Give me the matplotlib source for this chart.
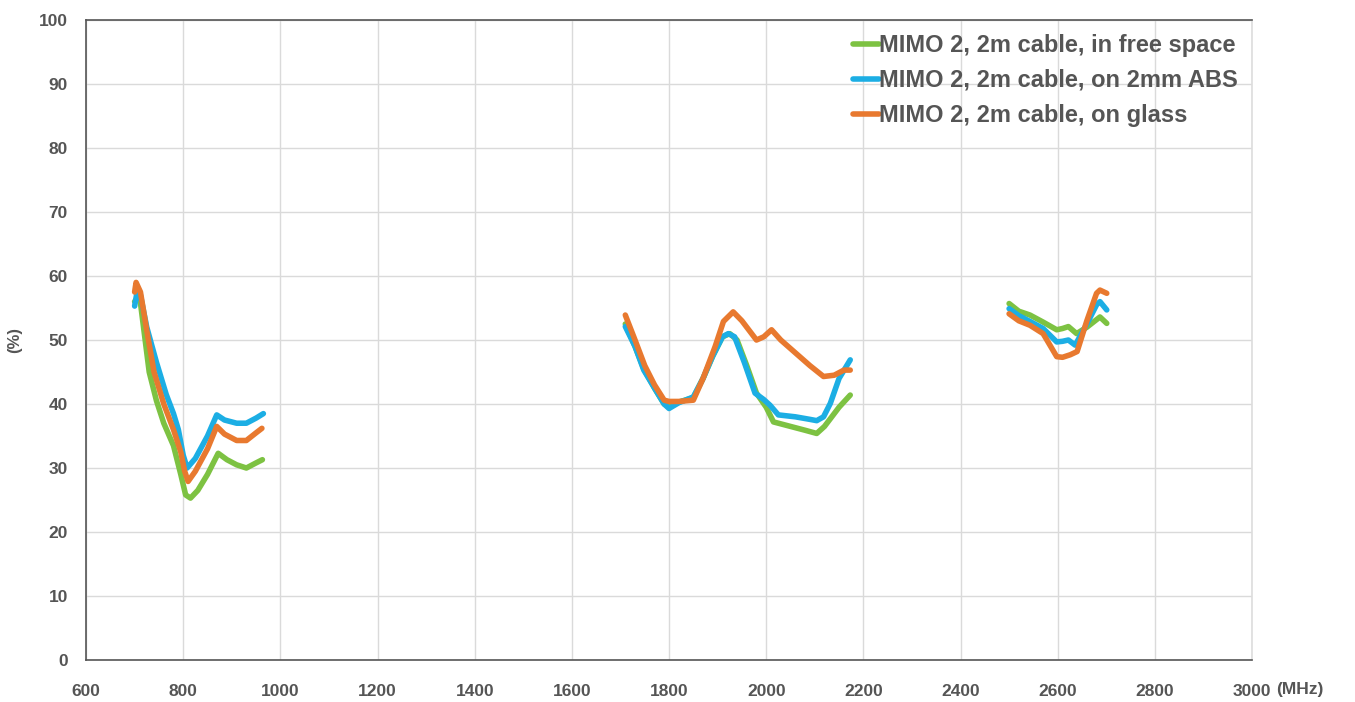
import matplotlib
matplotlib.use("Agg")
import matplotlib.pyplot as plt
import numpy as np

# Band 1 (700-960 MHz)
b1_green_f = [700, 710, 720, 730, 745, 760, 780, 795, 805, 815, 830, 850, 872, 890, 910, 930, 950, 963]
b1_green_v = [56.0, 57.0, 51.0, 45.0, 40.5, 37.0, 33.5, 29.0, 25.8, 25.3, 26.5, 29.0, 32.3, 31.3, 30.5, 30.0, 30.8, 31.3]
b1_blue_f = [700, 705, 712, 725, 745, 765, 780, 790, 800, 808, 825, 850, 869, 885, 910, 930, 950, 965]
b1_blue_v = [55.3, 57.5, 57.0, 52.0, 46.5, 41.5, 38.5, 36.0, 32.0, 30.0, 31.5, 35.0, 38.3, 37.5, 37.0, 37.0, 37.8, 38.5]
b1_orange_f = [700, 703, 712, 725, 740, 760, 780, 795, 803, 810, 825, 850, 869, 885, 910, 930, 950, 962]
b1_orange_v = [57.5, 59.0, 57.5, 51.5, 45.0, 40.0, 36.0, 32.5, 29.5, 27.9, 29.5, 33.0, 36.5, 35.3, 34.3, 34.3, 35.5, 36.2]

# Band 2 (1710-2175 MHz)
b2_green_f = [1710, 1730, 1748, 1770, 1790, 1800, 1820, 1850, 1870, 1890, 1910, 1925, 1940, 1960, 1980, 2000, 2015, 2050, 2080, 2104, 2120, 2150, 2173]
b2_green_v = [52.5, 49.0, 45.5, 42.5, 40.0, 39.5, 40.3, 41.0, 44.0, 47.5, 50.5, 51.0, 50.0, 46.0, 41.7, 39.5, 37.2, 36.5, 35.9, 35.4, 36.5, 39.5, 41.4]
b2_blue_f = [1710, 1730, 1748, 1770, 1790, 1800, 1820, 1850, 1870, 1890, 1910, 1922, 1935, 1955, 1977, 1995, 2008, 2025, 2060, 2090, 2104, 2118, 2132, 2150, 2173]
b2_blue_v = [52.1, 49.0, 45.3, 42.5, 40.0, 39.3, 40.2, 41.1, 44.0, 47.5, 50.5, 51.0, 50.5, 46.5, 41.7, 40.7, 39.8, 38.3, 38.0, 37.6, 37.4, 38.0, 40.1, 44.0, 46.9]
b2_orange_f = [1710, 1730, 1750, 1770, 1790, 1800, 1820, 1850, 1870, 1895, 1912, 1932, 1950, 1965, 1980, 1995, 2011, 2030, 2060, 2090, 2118, 2140, 2160, 2173]
b2_orange_v = [53.9, 50.0, 46.0, 43.0, 40.6, 40.4, 40.4, 40.6, 44.0, 49.0, 52.9, 54.4, 53.0, 51.5, 50.0, 50.5, 51.6, 50.0, 48.0, 46.0, 44.3, 44.5, 45.3, 45.3]

# Band 3 (2500-2700 MHz)
b3_green_f = [2500, 2520, 2543, 2570, 2598, 2610, 2622, 2639, 2660, 2687, 2701]
b3_green_v = [55.7, 54.5, 53.9, 52.8, 51.6, 51.8, 52.1, 51.0, 52.0, 53.6, 52.6]
b3_blue_f = [2500, 2520, 2543, 2570, 2598, 2610, 2622, 2636, 2660, 2680, 2687, 2701]
b3_blue_v = [54.9, 53.8, 52.9, 51.8, 49.7, 49.8, 50.0, 49.2, 52.5, 55.5, 56.0, 54.7]
b3_orange_f = [2500, 2520, 2543, 2570, 2598, 2610, 2626, 2640, 2660, 2680, 2687, 2701]
b3_orange_v = [54.1, 53.0, 52.3, 51.0, 47.4, 47.3, 47.7, 48.2, 53.0, 57.3, 57.8, 57.3]

labels = ["MIMO 2, 2m cable, in free space", "MIMO 2, 2m cable, on 2mm ABS", "MIMO 2, 2m cable, on glass"]
xticks = [600, 800, 1000, 1200, 1400, 1600, 1800, 2000, 2200, 2400, 2600, 2800, 3000]
yticks = [0, 10, 20, 30, 40, 50, 60, 70, 80, 90, 100]

colors = ["#7DC242", "#1CAEE4", "#E8792F"]
series = [
    [(b1_green_f, b1_green_v), (b2_green_f, b2_green_v), (b3_green_f, b3_green_v)],
    [(b1_blue_f, b1_blue_v), (b2_blue_f, b2_blue_v), (b3_blue_f, b3_blue_v)],
    [(b1_orange_f, b1_orange_v), (b2_orange_f, b2_orange_v), (b3_orange_f, b3_orange_v)],
]

plt.rcParams['font.family'] = ['Liberation Sans', 'DejaVu Sans']
fig = plt.figure(figsize=(13.55, 7.02), dpi=100)
ax = fig.add_axes([0.0635, 0.0598, 0.8605, 0.9117])

for col, lab, segs in zip(colors, labels, series):
    for i, (f, v) in enumerate(segs):
        ax.plot(f, v, color=col, lw=4.0, solid_capstyle='round', solid_joinstyle='round',
                label=lab if i == 0 else None)

ax.set_xlim(600, 3000)
ax.set_ylim(0, 100)
ax.set_xticks(xticks)
ax.set_yticks(yticks)
ax.set_xticklabels([str(t) for t in xticks])
ax.grid(True, color="#DADADA", lw=1.0)
ax.set_axisbelow(True)
for s in ax.spines.values():
    s.set_color("#555555")
    s.set_linewidth(1.2)
ax.spines['right'].set_color("#DDDDDD")
ax.tick_params(axis='both', length=0, labelsize=12.5, colors="#555555")
ax.tick_params(axis='x', pad=17)
ax.tick_params(axis='y', pad=13)
for t in ax.get_xticklabels() + ax.get_yticklabels():
    t.set_fontweight('bold')

ax.set_ylabel("(%)", fontsize=12, color="#555555", fontweight='bold', labelpad=12)
ax.text(1.021, -0.0465, "(MHz)", transform=ax.transAxes, fontsize=12.5, color="#555555",
        fontweight='bold', ha='left', va='center')

leg = ax.legend(loc='upper right', frameon=False, fontsize=17, handlelength=1.1,
                handletextpad=0.0, labelspacing=0.5, borderaxespad=0.2)
for t in leg.get_texts():
    t.set_color("#555555")
    t.set_fontweight('bold')

fig.savefig("out.png", dpi=100)
